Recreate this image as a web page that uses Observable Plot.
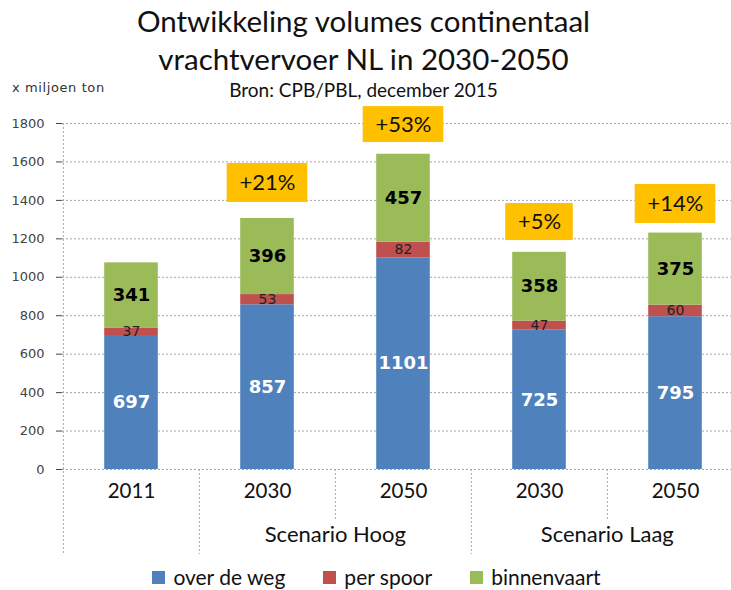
<!DOCTYPE html>
<html><head><meta charset="utf-8">
<script src="https://cdn.jsdelivr.net/npm/d3@7"></script>
<script src="https://cdn.jsdelivr.net/npm/@observablehq/plot@0.6"></script>
<style>
body{margin:0;background:#fff;width:731px;height:590px;overflow:hidden;font-family:Lato,sans-serif;color:#111;}
#head{position:relative;height:100px;}
.t{position:absolute;left:0;width:731px;text-align:center;white-space:nowrap;}
#legend{display:flex;justify-content:center;align-items:center;height:24px;margin-top:-5px;font-size:21px;line-height:24px;font-family:Lato,sans-serif;padding-left:22px;}
#legend .it{display:flex;align-items:center;margin:0 19px;}
#legend .sw{width:13px;height:13px;margin-right:8px;}
#chart svg{display:block;overflow:visible;}
</style></head><body>
<div id="head">
 <div class="t" style="top:4px;font-size:29.5px;line-height:34px;left:-2px">Ontwikkeling volumes continentaal</div>
 <div class="t" style="top:42px;font-size:29.5px;line-height:34px;left:-2px">vrachtvervoer NL in 2030-2050</div>
 <div class="t" style="top:79px;font-size:19px;line-height:22px;left:-2px">Bron: CPB/PBL, december 2015</div>
 <div style="position:absolute;left:12px;top:80px;font-size:13px;letter-spacing:0.6px;line-height:16px;font-family:'DejaVu Sans';color:#333">x miljoen ton</div>
</div>
<div id="chart"></div>
<div id="legend"></div>
<script>
const cats = ["2011", "H2030", "H2050", "L2030", "L2050"];
const years = ["2011", "2030", "2050", "2030", "2050"];
const modes = ["over de weg", "per spoor", "binnenvaart"];
const weg = [697, 857, 1101, 725, 795];
const spoor = [37, 53, 82, 47, 60];
const binnen = [341, 396, 457, 358, 375];
const pctCats = ["H2030", "H2050", "L2030", "L2050"];
const pctLabels = ["+21%", "+53%", "+5%", "+14%"];
const pctBottom = [1389, 1701, 1191, 1280];
const pctTop = [1592, 1888, 1384, 1483];
const scenarioCats = ["H2050", "L2050"];
const scenarioLabels = ["Scenario Hoog", "Scenario Laag"];
const yTicks = [0, 200, 400, 600, 800, 1000, 1200, 1400, 1600, 1800];
const colors = ["#4F81BD", "#C0504D", "#9BBB59"];

const series = [weg, spoor, binnen];
const rows = [];
cats.forEach((c, i) => {
  let acc = 0;
  modes.forEach((m, j) => {
    const v = series[j][i];
    rows.push({cat: c, mode: m, value: v, y1: acc, y2: acc + v});
    acc += v;
  });
});
const pcts = pctCats.map((c, i) => ({cat: c, label: pctLabels[i], lo: pctBottom[i], hi: pctTop[i]}));

const xRange = [62, 744];
const bw = (xRange[1] - xRange[0]) / cats.length;
const barW = 54;
const barInset = (bw - barW) / 2;
const gridStyle = {stroke: "#a6a6a6", strokeDasharray: "2,2", strokeWidth: 1};

const boxMarks = pcts.map(p => {
  const w = 13 * p.label.length + 29;
  const ins = (bw - w) / 2;
  return Plot.barY([p], {x: "cat", y1: "lo", y2: "hi", fill: "#FFC000", insetLeft: ins, insetRight: ins});
});
const label = d => String(d.value);
const mid = d => (d.y1 + d.y2) / 2;

const chart = Plot.plot({
  width: 731, height: 470,
  marginTop: 23, marginBottom: 101, marginLeft: 62, marginRight: 0,
  x: {domain: cats, range: xRange, padding: 0, axis: null},
  y: {domain: [0, 1800], axis: null},
  color: {domain: modes, range: colors},
  style: {fontFamily: "Lato, sans-serif", background: "transparent"},
  marks: [
    Plot.ruleY(yTicks, {y: d => d, ...gridStyle}),
    Plot.axisY({ticks: yTicks, tickSize: 6, tickPadding: 12, fontSize: 13, fontFamily: "DejaVu Sans", color: "#444", tickFormat: d => String(d)}),
    Plot.ruleX(["2011"], {x: d => d, y1: 1800, y2: 0, dx: -bw / 2, insetBottom: -85, ...gridStyle}),
    Plot.ruleX(["H2030", "L2030"], {x: d => d, y1: 0, y2: 0, dx: -bw / 2, insetBottom: -85, ...gridStyle}),
    Plot.ruleX(["H2050", "L2050"], {x: d => d, y1: 0, y2: 0, dx: -bw / 2, insetBottom: -51, ...gridStyle}),
    Plot.barY(rows, {x: "cat", y1: "y1", y2: "y2", fill: "mode", insetLeft: barInset, insetRight: barInset}),
    Plot.text(rows.filter(d => d.mode === modes[0]), {x: "cat", y: mid, text: label, fill: "white", fontWeight: "bold", fontSize: 18, fontFamily: "DejaVu Sans"}),
    Plot.text(rows.filter(d => d.mode === modes[1]), {x: "cat", y: mid, text: label, fill: "#222", fontSize: 14, fontFamily: "DejaVu Sans"}),
    Plot.text(rows.filter(d => d.mode === modes[2]), {x: "cat", y: mid, text: label, fill: "#000", fontWeight: "bold", fontSize: 18, fontFamily: "DejaVu Sans"}),
    ...boxMarks,
    Plot.text(pcts, {x: "cat", y: d => (d.lo + d.hi) / 2, text: "label", fontSize: 22, fontFamily: "Lato", fill: "#111"}),
    Plot.text(cats, {x: d => d, text: (d, i) => years[i], frameAnchor: "bottom", dy: 28, fontSize: 20.5, fontFamily: "Lato", fill: "#111"}),
    Plot.text(scenarioCats, {x: d => d, text: (d, i) => scenarioLabels[i], frameAnchor: "bottom", dx: -bw / 2, dy: 72, fontSize: 22, fontFamily: "Lato", fill: "#111"})
  ]
});
document.getElementById("chart").appendChild(chart);

const legend = document.getElementById("legend");
modes.forEach((m, i) => {
  const it = document.createElement("div");
  it.className = "it";
  const sw = document.createElement("div");
  sw.className = "sw";
  sw.style.background = colors[i];
  const tx = document.createElement("span");
  tx.textContent = m;
  it.appendChild(sw); it.appendChild(tx);
  legend.appendChild(it);
});
</script>
</body></html>
